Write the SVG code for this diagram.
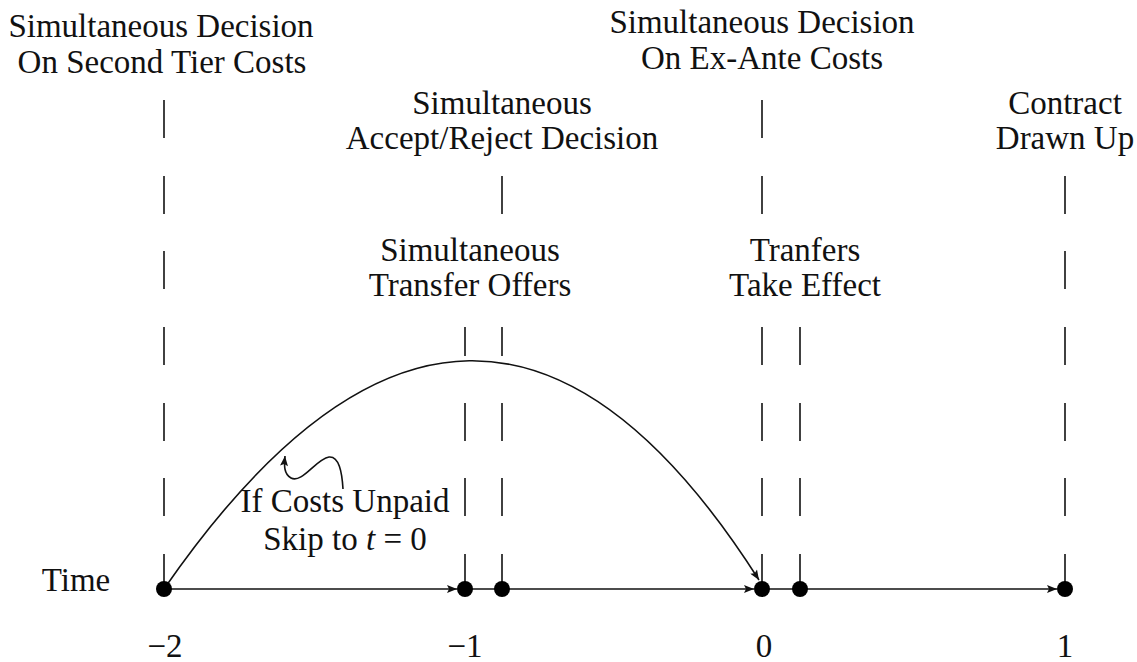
<svg xmlns="http://www.w3.org/2000/svg" width="1137" height="662" viewBox="0 0 1137 662">
  <style>
    text { font-family: "Liberation Serif", "Times New Roman", serif; font-size: 33px; fill: #111; text-anchor: middle; }
    .tick { stroke: #111; stroke-width: 1.6; fill: none; }
    .dot { fill: #000; }
    .conn { stroke: #111; stroke-width: 1.6; fill: none; }
  </style>
  <defs>
    <marker id="ah" viewBox="0 0 10 8" refX="10" refY="4" markerWidth="11" markerHeight="8" markerUnits="userSpaceOnUse" orient="auto">
      <path d="M0,0 L10,4 L0,8 L2,4 Z" fill="#111"/>
    </marker>
  </defs>
  <rect width="1137" height="662" fill="#fff"/>

  <g id="connectors">
    <line class="conn" x1="164" y1="589" x2="457" y2="589" marker-end="url(#ah)"/>
    <line class="conn" x1="465" y1="589" x2="502" y2="589"/>
    <line class="conn" x1="502" y1="589" x2="754" y2="589" marker-end="url(#ah)"/>
    <line class="conn" x1="762" y1="589" x2="800" y2="589"/>
    <line class="conn" x1="800" y1="589" x2="1057" y2="589" marker-end="url(#ah)"/>
    <path class="conn" d="M164,589 Q477,137 759,580" marker-end="url(#ah)"/>
    <path class="conn" d="M343,489 C342,472 339,456 329,457 C316,459 302,484 291,478 C284,474 284,466 285,456" marker-end="url(#ah)"/>
  </g>

  <g id="t-minus2">
    <text x="161" y="37">Simultaneous Decision</text>
    <text x="162" y="73">On Second Tier Costs</text>
    <line class="tick" x1="164" y1="100" x2="164" y2="138"/>
    <line class="tick" x1="164" y1="176" x2="164" y2="214"/>
    <line class="tick" x1="164" y1="251" x2="164" y2="289"/>
    <line class="tick" x1="164" y1="327" x2="164" y2="365"/>
    <line class="tick" x1="164" y1="403" x2="164" y2="441"/>
    <line class="tick" x1="164" y1="478" x2="164" y2="516"/>
    <line class="tick" x1="164" y1="554" x2="164" y2="589"/>
    <circle class="dot" cx="164" cy="589" r="8"/>
    <text x="165" y="657">−2</text>
  </g>

  <g id="time-label">
    <text x="76" y="591">Time</text>
  </g>

  <g id="t-minus1">
    <text x="470" y="261">Simultaneous</text>
    <text x="470" y="296">Transfer Offers</text>
    <line class="tick" x1="465" y1="327" x2="465" y2="356"/>
    <line class="tick" x1="465" y1="403" x2="465" y2="441"/>
    <line class="tick" x1="465" y1="478" x2="465" y2="516"/>
    <line class="tick" x1="465" y1="554" x2="465" y2="589"/>
    <circle class="dot" cx="465" cy="589" r="8"/>
    <text x="465" y="657">−1</text>
  </g>

  <g id="accept-reject">
    <text x="502" y="114">Simultaneous</text>
    <text x="502" y="149">Accept/Reject Decision</text>
    <line class="tick" x1="502" y1="176" x2="502" y2="214"/>
    <line class="tick" x1="502" y1="327" x2="502" y2="356"/>
    <line class="tick" x1="502" y1="403" x2="502" y2="441"/>
    <line class="tick" x1="502" y1="478" x2="502" y2="516"/>
    <line class="tick" x1="502" y1="554" x2="502" y2="589"/>
    <circle class="dot" cx="502" cy="589" r="8"/>
  </g>

  <g id="t-zero">
    <text x="762" y="33">Simultaneous Decision</text>
    <text x="762" y="69">On Ex-Ante Costs</text>
    <line class="tick" x1="762" y1="100" x2="762" y2="138"/>
    <line class="tick" x1="762" y1="176" x2="762" y2="214"/>
    <line class="tick" x1="762" y1="327" x2="762" y2="365"/>
    <line class="tick" x1="762" y1="403" x2="762" y2="441"/>
    <line class="tick" x1="762" y1="478" x2="762" y2="516"/>
    <line class="tick" x1="762" y1="554" x2="762" y2="589"/>
    <circle class="dot" cx="762" cy="589" r="8"/>
    <text x="764" y="657">0</text>
  </g>

  <g id="transfers-effect">
    <text x="805" y="261">Tranfers</text>
    <text x="805" y="296">Take Effect</text>
    <line class="tick" x1="800" y1="327" x2="800" y2="365"/>
    <line class="tick" x1="800" y1="403" x2="800" y2="441"/>
    <line class="tick" x1="800" y1="478" x2="800" y2="516"/>
    <line class="tick" x1="800" y1="554" x2="800" y2="589"/>
    <circle class="dot" cx="800" cy="589" r="8"/>
  </g>

  <g id="t-one">
    <text x="1065" y="114">Contract</text>
    <text x="1065" y="149">Drawn Up</text>
    <line class="tick" x1="1065" y1="176" x2="1065" y2="214"/>
    <line class="tick" x1="1065" y1="251" x2="1065" y2="289"/>
    <line class="tick" x1="1065" y1="327" x2="1065" y2="365"/>
    <line class="tick" x1="1065" y1="403" x2="1065" y2="441"/>
    <line class="tick" x1="1065" y1="478" x2="1065" y2="516"/>
    <line class="tick" x1="1065" y1="554" x2="1065" y2="589"/>
    <circle class="dot" cx="1065" cy="589" r="8"/>
    <text x="1065" y="657">1</text>
  </g>

  <g id="skip-note">
    <text x="345" y="512">If Costs Unpaid</text>
    <text x="345" y="550">Skip to <tspan font-style="italic">t</tspan> = 0</text>
  </g>
</svg>
